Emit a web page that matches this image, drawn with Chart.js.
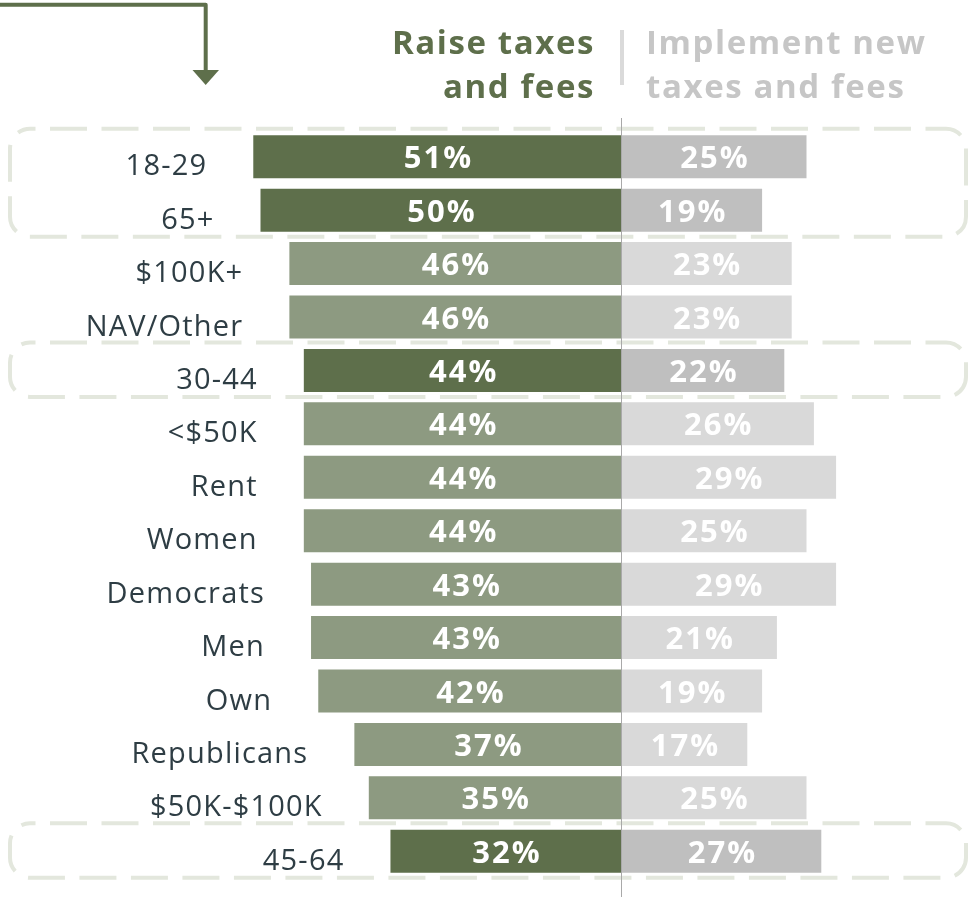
<!DOCTYPE html>
<html>
<head>
<meta charset="utf-8">
<title>Raise taxes and fees vs. implement new taxes and fees</title>
<script src="https://cdn.jsdelivr.net/npm/chart.js@4/dist/chart.umd.min.js"></script>
<style>
  html, body { margin: 0; padding: 0; background: #fff; }
  #wrap { width: 974px; height: 897px; }
</style>
</head>
<body>
<div id="wrap"><canvas id="myChart" width="974" height="897"></canvas></div>
<script>
const categories = ['18-29', '65+', '$100K+', 'NAV/Other', '30-44', '<$50K', 'Rent', 'Women',
  'Democrats', 'Men', 'Own', 'Republicans', '$50K-$100K', '45-64'];
const raiseTaxes = [51, 50, 46, 46, 44, 44, 44, 44, 43, 43, 42, 37, 35, 32];
const newTaxes   = [25, 19, 23, 23, 22, 26, 29, 25, 29, 21, 19, 17, 25, 27];
const ageGroups  = ['18-29', '65+', '30-44', '45-64'];

const headerLeft  = ['Raise taxes', 'and fees'];
const headerRight = ['Implement new', 'taxes and fees'];

const DARK_GREEN = '#5e6f4b';
const SAGE       = '#8d9a81';
const MID_GRAY   = '#bfbfbf';
const LIGHT_GRAY = '#d9d9d9';
const LABEL_INK  = '#2e3d44';
const BOX_LINE   = '#e3e7dd';

// both halves share the centre line but not quite the same px per point
const W = 974, MID = 621.5, PX_LEFT = 7.22, PX_RIGHT = 7.4;

const isAge = c => ageGroups.includes(c);

const ctx = document.getElementById('myChart');

const decorations = {
  id: 'decorations',
  beforeDatasetsDraw(chart) {
    const c = chart.ctx, y = chart.scales.y;
    c.save();

    // dashed rounded boxes around runs of age rows
    c.strokeStyle = BOX_LINE;
    c.lineWidth = 4;
    c.setLineDash([37, 14.5]);
    c.lineDashOffset = -20;
    let i = 0;
    while (i < categories.length) {
      if (!isAge(categories[i])) { i++; continue; }
      let j = i;
      while (j + 1 < categories.length && isAge(categories[j + 1])) j++;
      const top = y.getPixelForValue(i) - 28;
      const bot = y.getPixelForValue(j) + 26.5;
      c.beginPath();
      c.roundRect(10, top, 956, bot - top, 20);
      c.stroke();
      i = j + 1;
    }
    c.setLineDash([]);

    // arrow pointing down at the first box
    c.strokeStyle = DARK_GREEN;
    c.fillStyle = DARK_GREEN;
    c.lineWidth = 4;
    c.lineJoin = 'round';
    c.beginPath();
    c.moveTo(0, 4.7);
    c.lineTo(205.7, 4.7);
    c.lineTo(205.7, 71);
    c.stroke();
    c.beginPath();
    c.moveTo(192.5, 70);
    c.lineTo(219, 70);
    c.lineTo(205.7, 85);
    c.closePath();
    c.fill();

    // column headers
    c.font = 'bold 33px "Open Sans"';
    c.letterSpacing = '1.6px';
    c.textBaseline = 'alphabetic';
    c.fillStyle = DARK_GREEN;
    c.textAlign = 'right';
    c.fillText(headerLeft[0], 595, 54);
    c.fillText(headerLeft[1], 595, 98);
    c.fillStyle = '#c6c6c6';
    c.textAlign = 'left';
    c.fillText(headerRight[0], 646, 54);
    c.fillText(headerRight[1], 646, 98);
    c.letterSpacing = '0px';

    c.fillStyle = '#dadada';
    c.fillRect(620, 30, 4, 55);
    c.restore();
  },
  afterDatasetsDraw(chart) {
    const c = chart.ctx, y = chart.scales.y;
    const xL = chart.scales.xL, xR = chart.scales.xR;
    c.save();

    // centre axis
    c.fillStyle = '#a9a9a9';
    c.fillRect(Math.round(xL.getPixelForValue(0)), 118, 1, 897 - 118);

    c.textBaseline = 'alphabetic';
    categories.forEach((cat, i) => {
      const cy = y.getPixelForValue(i);
      const left = xL.getPixelForValue(-raiseTaxes[i]);
      const zero = xL.getPixelForValue(0);
      const right = xR.getPixelForValue(newTaxes[i]);

      // values inside the bars
      c.font = 'bold 31px "Open Sans"';
      c.letterSpacing = '2px';
      c.fillStyle = '#ffffff';
      c.textAlign = 'center';
      c.fillText(raiseTaxes[i] + '%', (left + zero) / 2 + 1, cy + 11.5);
      c.fillText(newTaxes[i] + '%', (zero + right) / 2 + 1, cy + 11.5);

      // category label just left of the bar
      c.font = '29px "Open Sans"';
      c.letterSpacing = '1.2px';
      c.fillStyle = LABEL_INK;
      c.textAlign = 'right';
      c.fillText(cat, left - 46, cy + 18.5);
    });
    c.letterSpacing = '0px';
    c.restore();
  }
};

const data = {
  labels: categories,
  datasets: [
    {
      label: 'Raise taxes and fees',
      data: raiseTaxes.map(v => -v),
      xAxisID: 'xL',
      backgroundColor: categories.map(c => isAge(c) ? DARK_GREEN : SAGE),
      grouped: false,
      barPercentage: 0.805,
      categoryPercentage: 1
    },
    {
      label: 'Implement new taxes and fees',
      data: newTaxes,
      xAxisID: 'xR',
      backgroundColor: categories.map(c => isAge(c) ? MID_GRAY : LIGHT_GRAY),
      grouped: false,
      barPercentage: 0.805,
      categoryPercentage: 1
    }
  ]
};

const config = {
  type: 'bar',
  data: data,
  options: {
    indexAxis: 'y',
    responsive: false,
    animation: false,
    layout: { padding: { top: 130, bottom: 19, left: 0, right: 0 } },
    scales: {
      y: { display: false, offset: true },
      xL: { type: 'linear', display: false, min: -MID / PX_LEFT, max: (W - MID) / PX_LEFT },
      xR: { type: 'linear', display: false, min: -MID / PX_RIGHT, max: (W - MID) / PX_RIGHT }
    },
    plugins: {
      legend: { display: false },
      tooltip: { enabled: false }
    }
  },
  plugins: [decorations]
};

const myChart = new Chart(ctx, config);
</script>
</body>
</html>
